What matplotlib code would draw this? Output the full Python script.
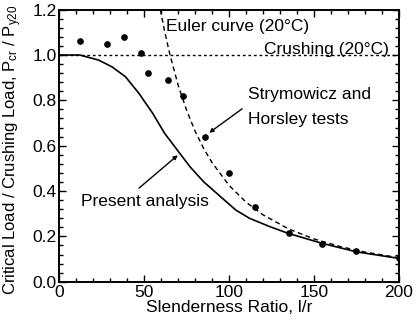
import matplotlib
matplotlib.use('Agg')
from matplotlib import pyplot as plt
from matplotlib.ticker import MultipleLocator

plt.rcParams['font.family'] = ['Liberation Sans', 'DejaVu Sans']
plt.rcParams['mathtext.fontset'] = 'custom'
plt.rcParams['mathtext.rm'] = 'Liberation Sans'
plt.rcParams['mathtext.it'] = 'Liberation Sans'

# test points (Strymowicz and Horsley)
test_x = [12, 28, 38, 48, 52, 64, 73, 86, 100, 115, 135, 155, 175, 200]
test_y = [1.06, 1.05, 1.08, 1.01, 0.92, 0.89, 0.82, 0.64, 0.48, 0.33, 0.215, 0.165, 0.137, 0.103]

# present analysis curve
anal_x = [0, 12, 23, 31, 39, 47, 55, 62, 71, 77, 85, 95, 104, 112, 124, 135, 155, 175, 200]
anal_y = [1.0, 1.0, 0.978, 0.948, 0.904, 0.83, 0.743, 0.655, 0.566, 0.507, 0.441,
          0.375, 0.316, 0.28, 0.243, 0.213, 0.169, 0.132, 0.103]

# Euler curve (20 C)
euler_x = [59.5, 62, 65, 70, 75, 80, 85, 90, 100, 110, 120, 135, 150, 165, 180, 200]
euler_y = [1.2, 1.106, 1.006, 0.867, 0.756, 0.664, 0.588, 0.525, 0.425, 0.351,
           0.295, 0.233, 0.189, 0.156, 0.131, 0.106]

# crushing line
crush_x = [0, 200]
crush_y = [1.0, 1.0]

fig = plt.figure(figsize=(4.19, 3.22), dpi=100)
ax = fig.add_axes([0.1415, 0.125, 0.8105, 0.845])

ax.plot(anal_x, anal_y, color='black', lw=1.2)
ax.plot(euler_x, euler_y, color='black', lw=1.0, linestyle=(0, (3.5, 2.5)))
ax.plot(crush_x, crush_y, color='black', lw=1.0, linestyle=(0, (2, 2)))
ax.plot(test_x, test_y, 'o', color='black', markersize=3.8)

ax.set_xlim(0, 200)
ax.set_ylim(0, 1.2)
ax.xaxis.set_major_locator(MultipleLocator(50))
ax.xaxis.set_minor_locator(MultipleLocator(10))
ax.yaxis.set_major_locator(MultipleLocator(0.2))
ax.yaxis.set_minor_locator(MultipleLocator(0.04))
ax.tick_params(which='both', direction='in', top=True, right=True, labelsize=12.5, pad=2)
ax.tick_params(which='major', length=5, width=1)
ax.tick_params(which='minor', length=3, width=1)
for s in ax.spines.values():
    s.set_linewidth(1.4)

ax.set_xlabel('Slenderness Ratio, l/r', fontsize=12.5, labelpad=0)
ax.set_ylabel('Critical Load / Crushing Load, P$_{\\rm cr}$ / P$_{\\rm y20}$',
              fontsize=12)
ax.yaxis.set_label_coords(-0.105, 0.485)

fs = 12.5
ax.text(63, 1.125, 'Euler curve (20°C)', fontsize=fs, va='center')
ax.text(194, 1.003, 'Crushing (20°C)', fontsize=fs, va='baseline', ha='right')
ax.text(111, 0.824, 'Strymowicz and', fontsize=fs, va='center')
ax.text(111, 0.716, 'Horsley tests', fontsize=fs, va='center')
ax.text(13, 0.356, 'Present analysis', fontsize=fs, va='center')

ax.annotate('', xy=(87, 0.65), xytext=(109, 0.77),
            arrowprops=dict(arrowstyle='-|>', color='black', lw=1, mutation_scale=6))
ax.annotate('', xy=(71, 0.566), xytext=(45.7, 0.405),
            arrowprops=dict(arrowstyle='-|>', color='black', lw=1, mutation_scale=6))

fig.savefig('out.png', dpi=100)
